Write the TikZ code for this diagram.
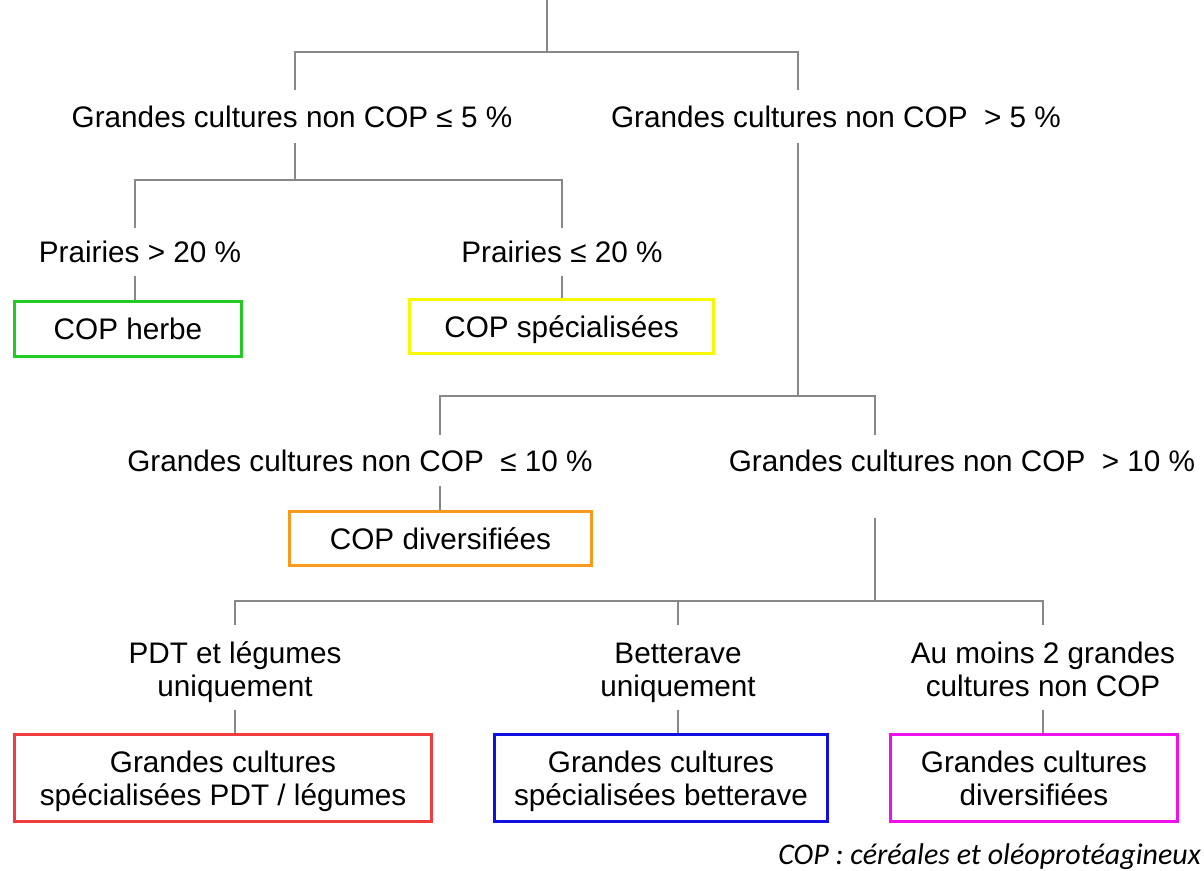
\documentclass[tikz,border=0pt]{standalone}
\usepackage{fontspec}
\setmainfont{Liberation Sans}
\newfontfamily\notefont{Carlito}
\usetikzlibrary{calc}
\definecolor{lnk}{HTML}{888888}
\definecolor{cgreen}{HTML}{22CC22}
\definecolor{cyellow}{HTML}{F8F800}
\definecolor{corange}{HTML}{F89A1C}
\definecolor{cred}{HTML}{F03C3C}
\definecolor{cblue}{HTML}{1010E0}
\definecolor{cmagenta}{HTML}{EE11EE}
\newcommand{\topstrut}[1]{\rule{0pt}{#1}}
\newcommand{\botstrut}{\rule[-9.9pt]{0pt}{9.9pt}}
\begin{document}
\begin{tikzpicture}[x=1pt,y=-1pt,
  conn/.style={draw=lnk, line width=1.3pt},
  lbl/.style={inner sep=0pt, font=\fontsize{29.7}{33}\selectfont, align=center, text height=21pt, text depth=0pt},
  mlbl/.style={inner sep=0pt, font=\fontsize{29.7}{33}\selectfont, align=center},
  leaf/.style={draw, line width=3.4pt, inner sep=0pt, font=\fontsize{29.7}{33}\selectfont, align=center},
  oneline/.style={text height=21.3pt, text depth=0pt}]
\useasboundingbox (0,0) rectangle (1204,870);

% labels
\node[lbl, minimum height=53pt] (L1) at (292,116.5) {Grandes cultures non COP ≤ 5 \%};
\node[lbl, minimum height=53pt] (L2) at (836,116.5) {Grandes cultures non COP~~> 5 \%};
\node[lbl, minimum height=48pt] (P1) at (140,252) {Prairies > 20 \%};
\node[lbl, minimum height=48pt] (P2) at (562,252) {Prairies ≤ 20 \%};
\node[lbl, minimum height=51pt] (L3) at (360,460.5) {Grandes cultures non COP~~≤ 10 \%};
\node[lbl, minimum height=51pt] (L4) at (962,460.5) {Grandes cultures non COP~~> 10 \%};
\node[mlbl, minimum height=85pt] (M1) at (235,667.5) {\topstrut{34.7pt}PDT et légumes\\uniquement\botstrut};
\node[mlbl, minimum height=85pt] (M2) at (678,667.5) {\topstrut{34.7pt}Betterave\\uniquement\botstrut};
\node[mlbl, minimum height=85pt] (M3) at (1043,667.5) {\topstrut{34.7pt}Au moins 2 grandes\\cultures non COP\botstrut};

% leaves
\node[leaf, oneline, draw=cgreen, minimum width=227pt, minimum height=55pt] (B1) at (128,329) {COP herbe};
\node[leaf, oneline, draw=cyellow, minimum width=304pt, minimum height=54pt] (B2) at (561.5,326.5) {COP spécialisées};
\node[leaf, oneline, draw=corange, minimum width=302pt, minimum height=54pt] (B3) at (440.5,538.5) {COP diversifiées};
\node[leaf, draw=cred, minimum width=417pt, minimum height=87pt] (B4) at (223,778) {\topstrut{31.7pt}Grandes cultures\\spécialisées PDT / légumes\botstrut};
\node[leaf, draw=cblue, minimum width=333pt, minimum height=87pt] (B5) at (661,778) {\topstrut{31.7pt}Grandes cultures\\spécialisées betterave\botstrut};
\node[leaf, draw=cmagenta, minimum width=287pt, minimum height=87pt] (B6) at (1034,778) {\topstrut{31.7pt}Grandes cultures\\diversifiées\botstrut};

\node[anchor=base east, inner sep=0pt, font=\notefont\itshape\fontsize{30}{32}\selectfont] (note) at (1201,864) {COP : céréales et oléoprotéagineux};

% junctions
\coordinate (top) at (547,0);
\coordinate (j0) at (547,52);
\coordinate (j0l) at (295,52);
\coordinate (j0r) at (798,52);
\coordinate (j1) at (295,180);
\coordinate (j1l) at (135,180);
\coordinate (j1r) at (562,180);
\coordinate (j2) at (798,396);
\coordinate (j2l) at (440,396);
\coordinate (j2r) at (875,396);
\coordinate (c4) at (875,518);
\coordinate (j3) at (875,601);
\coordinate (j3l) at (235,601);
\coordinate (j3m) at (678,601);
\coordinate (j3r) at (1043,601);

% connectors
\draw[conn] (top) -- (j0);
\draw[conn] (j0l |- L1.north) -- (j0l) -- (j0r) -- (j0r |- L2.north);
\draw[conn] (L1.south -| j1) -- (j1);
\draw[conn] (j1l |- P1.north) -- (j1l) -- (j1r) -- (j1r |- P2.north);
\draw[conn] (P1.south -| j1l) -- (j1l |- B1.north);
\draw[conn] (P2.south -| j1r) -- (j1r |- B2.north);
\draw[conn] (L2.south -| j2) -- (j2);
\draw[conn] (j2l |- L3.north) -- (j2l) -- (j2r) -- (j2r |- L4.north);
\draw[conn] (L3.south -| j2l) -- (j2l |- B3.north);
\draw[conn] (c4) -- (j3);
\draw[conn] (j3l |- M1.north) -- (j3l) -- (j3r) -- (j3r |- M3.north);
\draw[conn] (j3m) -- (j3m |- M2.north);
\draw[conn] (M1.south -| j3l) -- (j3l |- B4.north);
\draw[conn] (M2.south -| j3m) -- (j3m |- B5.north);
\draw[conn] (M3.south -| j3r) -- (j3r |- B6.north);
\end{tikzpicture}
\end{document}
